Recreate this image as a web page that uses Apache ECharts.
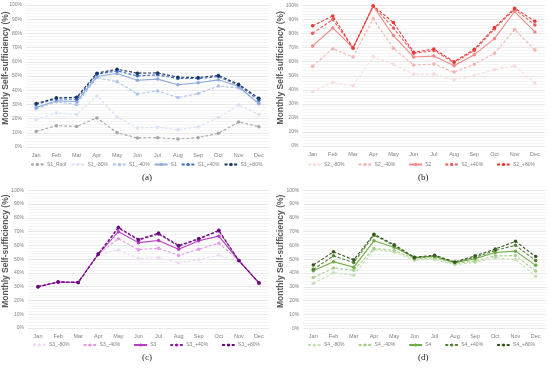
<!DOCTYPE html>
<html><head><meta charset="utf-8">
<script src="https://cdn.jsdelivr.net/npm/echarts@6/dist/echarts.min.js"></script>
<style>html,body{margin:0;padding:0;background:#fff}#c{width:550px;height:369px}</style>
</head><body><div id="c"></div>
<script>
const months = ['Jan','Feb','Mar','Apr','May','Jun','Jul','Aug','Sep','Oct','Nov','Dec'];
const yTicks = ['0%','10%','20%','30%','40%','50%','60%','70%','80%','90%','100%'];
const panelLabels = ['(a)','(b)','(c)','(d)'];
const yTitle = 'Monthly Self-sufficiency (%)';

// Panel (a)
const namesA = ['S1_Roof','S1_-80%','S1_-40%','S1','S1_+40%','S1_+80%'];
const s1Roof = [11,15,14.5,20.5,10,6.4,6.6,5.6,6.6,9.6,17.6,14.3];
const s1m80 = [19.3,24,22.8,36,21.2,13.4,13.9,12.2,14.1,20.7,29.6,23];
const s1m40 = [27,31.8,30,49,46,37.4,39.5,34.8,37.6,43,41.6,31];
const s1 = [27.8,32.5,32,49.6,51.8,47,47.8,43.8,45.2,47.3,42.6,30.4];
const s1p40 = [30,33.9,33.6,51.3,53.6,50.1,50.8,48.2,48.2,49.6,43.5,33];
const s1p80 = [30.6,34.6,35,52,54.8,52,52.2,49.2,48.9,50.4,44.2,34.3];

// Panel (b)
const namesB = ['S2_-80%','S2_-40%','S2','S2_+40%','S2_+80%'];
const s2m80 = [38.8,45.2,42.9,63.6,58.1,51,51.2,47.1,50,54.3,56.9,44.8];
const s2m40 = [56.7,69.3,63.3,90.5,69.5,57.6,58.3,52.6,58.1,66,82.9,68.3];
const s2 = [71.2,84,69.8,99.5,78.6,63.3,64,57.1,65,76.4,95.7,81.2];
const s2p40 = [80.2,90,69.8,99.5,84,66,67.9,59.3,67.9,83.3,97.4,86.2];
const s2p80 = [85.5,92.6,69.8,99.8,87.9,66.7,69,60,68.8,84.3,98.1,88.8];

// Panel (c)
const namesC = ['S3_-80%','S3_-40%','S3','S3_+40%','S3_+80%'];
const s3m80 = [30,33.4,33.1,53.7,56.7,50.5,51,47.4,49.6,53,48.5,32.7];
const s3m40 = [30,33.4,33.1,53.7,64.8,56.9,57.9,52.7,57.2,61.6,49,32.7];
const s3 = [30,33.4,33.1,53.7,69.9,62,63.5,57.2,63.3,66.7,49,32.7];
const s3p40 = [30,33.4,33.1,53.7,72.6,63.8,68.2,59.4,64.5,70.4,49,32.7];
const s3p80 = [30,33.4,33.1,53.7,73.1,64.3,68.9,59.9,65,70.9,49,32.7];

// Panel (d)
const namesD = ['S4_-80%','S4_-40%','S4','S4_+40%','S4_+80%'];
const s4m80 = [32.6,40.2,38.5,56.9,55.2,49.3,50,46.1,47.8,51.2,49.8,37.8];
const s4m40 = [36.8,43.7,42,57.9,56.4,50.3,51,46.9,48.8,52.5,52.7,41.5];
const s4 = [41.7,48.3,44.2,63.4,58.7,51.4,52.1,47.6,50.5,54.9,55.9,45.6];
const s4p40 = [42.7,52.5,47.6,67.5,59.9,50.8,52.5,47.8,51.5,56.4,60.1,49.1];
const s4p80 = [45.9,55.4,49.6,68.2,60.6,51.5,53,48.1,52.5,57.4,63,52];

const panels = [
  {names:namesA, data:[s1Roof,s1m80,s1m40,s1,s1p40,s1p80],
   colors:['#a6a6a6','#d9e2f3','#adc3e8','#8eaadb','#3f6ec2','#1c3461'],
   solid:[false,false,false,true,false,false],
   grid:{left:26,top:5,width:243,height:142}, legend:{left:30,top:162}, gap:4, lab:[148,178]},
  {names:namesB, data:[s2m80,s2m40,s2,s2p40,s2p80],
   colors:['#f9dcda','#f4b3b0','#ee8a86','#e8605c','#e53935'],
   solid:[false,false,true,false,false],
   grid:{left:302.5,top:5.5,width:242.5,height:140.5}, legend:{left:307,top:162}, gap:13, lab:[424,178]},
  {names:namesC, data:[s3m80,s3m40,s3,s3p40,s3p80],
   colors:['#eedaf2','#e39be9','#b83cc4','#8f1fa0','#680d78'],
   solid:[false,false,true,false,false],
   grid:{left:28,top:190.3,width:241,height:137.7}, legend:{left:32,top:342.5}, gap:13, lab:[148,358]},
  {names:namesD, data:[s4m80,s4m40,s4,s4p40,s4p80],
   colors:['#c5e0b4','#a9d18e','#70ad47','#548235','#385723'],
   solid:[false,false,true,false,false],
   grid:{left:303.2,top:190.3,width:242.6,height:138}, legend:{left:307,top:342.5}, gap:13, lab:[424,358]}
];

const grids=[], xAxes=[], yAxes=[], series=[], legends=[], graphics=[];
panels.forEach((p,i)=>{
  grids.push(Object.assign({containLabel:false}, p.grid));
  xAxes.push({type:'category', gridIndex:i, data:months, boundaryGap:true,
    axisLine:{show:false}, axisTick:{show:false},
    axisLabel:{fontSize:5.5, color:'#7f7f7f', margin:5, fontFamily:'Liberation Sans'}});
  yAxes.push({type:'value', gridIndex:i, min:0, max:100, interval:10,
    axisLine:{show:false}, axisTick:{show:false},
    axisLabel:{fontSize:5, color:'#7f7f7f', margin:4, fontFamily:'Liberation Sans',
      formatter:(v)=>yTicks[Math.round(v/10)]},
    splitLine:{lineStyle:{color:'#d9d9d9', width:0.6}},
    minorTick:{show:false, splitNumber:5},
    minorSplitLine:{show:true, lineStyle:{color:'#efefef', width:0.6}}});
  p.names.forEach((n,k)=>{
    series.push({name:n, type:'line', xAxisIndex:i, yAxisIndex:i, data:p.data[k],
      symbol:'circle', symbolSize:3.5, color:p.colors[k],
      lineStyle:{width:1.1, type:p.solid[k]?'solid':[3,1.8]},
      itemStyle:{color:p.colors[k]}, z:2+k});
  });
  legends.push({data:p.names, left:p.legend.left, top:p.legend.top, width:265, orient:'horizontal',
    itemWidth:13, itemHeight:4, itemGap:p.gap, padding:0,
    textStyle:{fontSize:5, color:'#7f7f7f', fontFamily:'Liberation Sans', padding:[0,0,0,-2]}});
  graphics.push({type:'text', left:p.lab[0]-6, top:p.lab[1]-5,
    style:{text:panelLabels[i], font:'9px "Liberation Serif"', fill:'#222'}});
  const cy = p.grid.top + p.grid.height/2 - 8;
  const cx = (i%2===0?0:275)+6;
  graphics.push({type:'text', x:cx, y:cy, rotation:Math.PI/2,
    style:{text:yTitle, font:'600 8.5px "Liberation Sans"', fill:'#595959',
      textAlign:'center', textVerticalAlign:'middle'}});
});

const chart = echarts.init(document.getElementById('c'), null, {renderer:'canvas'});
chart.setOption({
  animation:false, backgroundColor:'#fff',
  grid:grids, xAxis:xAxes, yAxis:yAxes, series:series, legend:legends, graphic:graphics
});
</script></body></html>
